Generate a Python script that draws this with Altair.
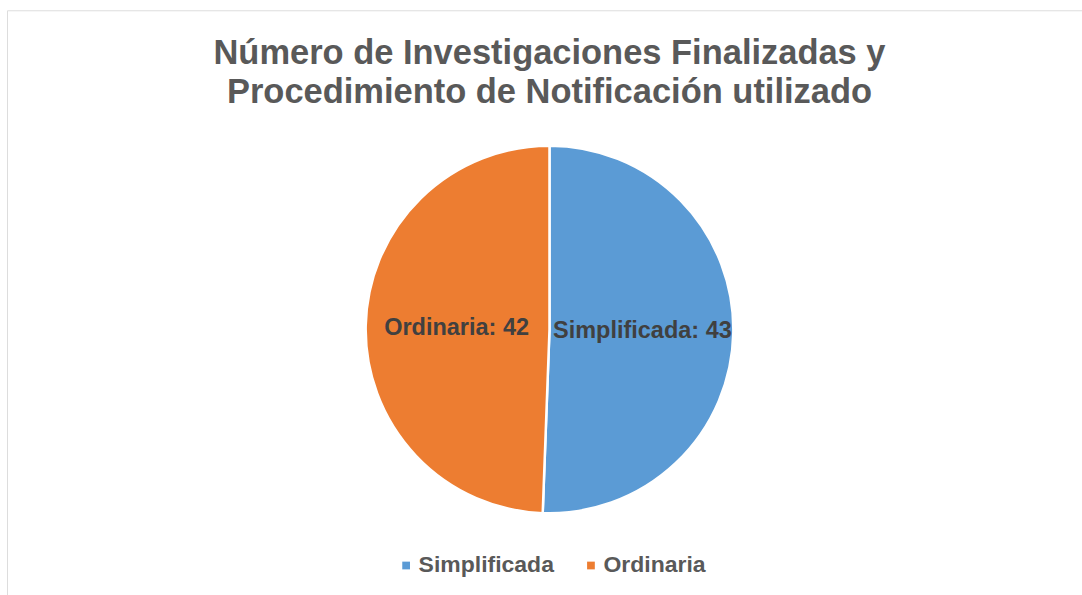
import altair as alt
import pandas as pd

categories = ["Simplificada", "Ordinaria"]
values = [43, 42]
colors = ["#5B9BD5", "#ED7D31"]

df = pd.DataFrame({
    "categoria": categories,
    "valor": values,
    "orden": [0, 1],
})
df["etiqueta"] = df["categoria"] + ": " + df["valor"].astype(str)

cx, cy, r = 543, 319.5, 184

base = alt.Chart(df).encode(
    theta=alt.Theta("valor:Q", stack=True),
    order=alt.Order("orden:Q"),
)

arcs = base.mark_arc(outerRadius=r, stroke="white", strokeWidth=2.5).encode(
    x=alt.value(cx),
    y=alt.value(cy),
    color=alt.Color(
        "categoria:N",
        scale=alt.Scale(domain=categories, range=colors),
        sort=categories,
        legend=alt.Legend(
            title=None,
            orient="none",
            legendX=388,
            legendY=544,
            direction="horizontal",
            symbolType="square",
            symbolSize=60,
            symbolStrokeWidth=0,
            labelFont="Liberation Sans",
            labelFontSize=23,
            labelFontWeight="bold",
            labelColor="#595959",
            labelOffset=1,
            columnPadding=25,
            labelLimit=300,
        ),
    ),
)

labels = base.mark_text(
    radius=93,
    font="Liberation Sans",
    fontSize=23.5,
    fontWeight="bold",
    color="#404040",
).encode(
    x=alt.value(cx),
    y=alt.value(cy),
    text="etiqueta:N",
)

chart = (
    alt.layer(arcs, labels)
    .properties(
        width=1076,
        height=586,
        padding={"left": 7, "top": 10, "right": 0, "bottom": 0},
        title=alt.TitleParams(
            text=["Número de Investigaciones Finalizadas y",
                  "Procedimiento de Notificación utilizado"],
            font="Liberation Sans",
            fontSize=34.5,
            fontWeight="bold",
            color="#595959",
            anchor="middle",
            align="center",
            dx=5,
            offset=-100,
            lineHeight=39,
        ),
    )
    .configure_view(stroke="#D9D9D9", strokeWidth=2)
    .configure(background="white")
)

chart.save("out.html", embed_options={"renderer": "svg", "actions": False})
